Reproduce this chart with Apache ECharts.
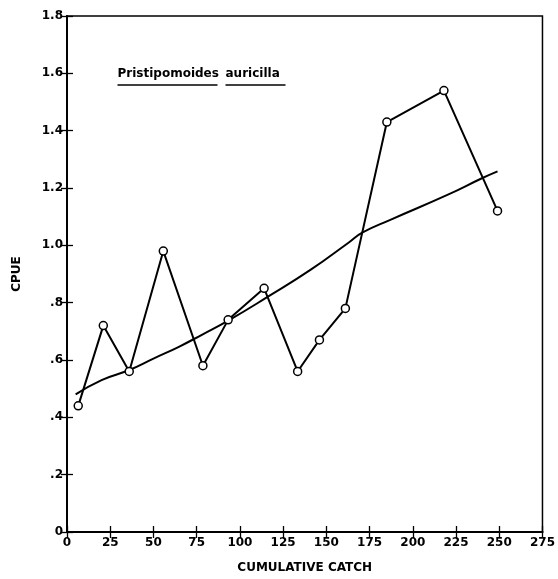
<!DOCTYPE html>
<html>
<head>
<meta charset="utf-8">
<script src="https://cdn.jsdelivr.net/npm/echarts@6/dist/echarts.min.js"></script>
<style>html,body{margin:0;padding:0;background:#fff}#c{width:558px;height:579px}</style>
</head>
<body>
<div id="c"></div>
<script>
// Observed CPUE vs cumulative catch
var catchX = [6.5, 21, 36, 55.7, 78.6, 93.2, 114, 133.4, 146, 161, 185, 218, 249];
var cpueY = [0.44, 0.72, 0.56, 0.98, 0.58, 0.74, 0.85, 0.56, 0.67, 0.78, 1.43, 1.54, 1.12];
// Fitted (smooth) curve
var fitX = [5, 20, 36, 50, 65, 78, 94, 116, 141, 163, 171, 187, 220, 240, 249];
var fitY = [0.48, 0.53, 0.565, 0.605, 0.647, 0.688, 0.74, 0.82, 0.915, 1.01, 1.045, 1.089, 1.176, 1.234, 1.258];
var xTicks = [0, 25, 50, 75, 100, 125, 150, 175, 200, 225, 250, 275];
var yTickLabels = ['0', '.2', '.4', '.6', '.8', '1.0', '1.2', '1.4', '1.6', '1.8'];
var speciesName = ['Pristipomoides', 'auricilla'];

var pair = function (xs, ys) { return xs.map(function (x, i) { return [x, ys[i]]; }); };
var FONT = 'DejaVu Sans';
var chart = echarts.init(document.getElementById('c'));
var lbl = { color: '#000', fontFamily: FONT, fontWeight: 'bold', fontSize: 12 };
var tickIn = { show: true, inside: true, length: 6, lineStyle: { color: '#000', width: 1.3 } };
chart.setOption({
  animation: false,
  backgroundColor: '#fff',
  grid: { left: 67, right: 12, top: 16, bottom: 47, show: true, borderColor: '#000', borderWidth: 1.5 },
  xAxis: [{
    type: 'value', min: 0, max: 275, interval: 25,
    axisLine: { show: true, lineStyle: { color: '#000', width: 2 } },
    axisTick: tickIn, splitLine: { show: false },
    axisLabel: Object.assign({ margin: 5, formatter: function (v) { return xTicks.indexOf(v) >= 0 ? String(v) : ''; } }, lbl),
    name: 'CUMULATIVE CATCH', nameLocation: 'middle', nameGap: 30,
    nameTextStyle: { color: '#000', fontFamily: FONT, fontWeight: 'bold', fontSize: 12 }
  }, {
    type: 'value', position: 'top', min: 0, max: 275, interval: 25,
    axisLine: { show: true, lineStyle: { color: '#000', width: 1.5 } },
    axisTick: tickIn, axisLabel: { show: false }, splitLine: { show: false }
  }],
  yAxis: [{
    type: 'value', min: 0, max: 1.8, interval: 0.2,
    axisLine: { show: true, lineStyle: { color: '#000', width: 2 } },
    axisTick: tickIn, splitLine: { show: false },
    axisLabel: Object.assign({ margin: 4, formatter: function (v) { return yTickLabels[Math.round(v / 0.2)]; } }, lbl),
    name: 'CPUE', nameLocation: 'middle', nameGap: 44, nameRotate: 90,
    nameTextStyle: { color: '#000', fontFamily: FONT, fontWeight: 'bold', fontSize: 12 }
  }, {
    type: 'value', position: 'right', min: 0, max: 1.8, interval: 0.2,
    axisLine: { show: true, lineStyle: { color: '#000', width: 1.5 } },
    axisTick: tickIn, axisLabel: { show: false }, splitLine: { show: false }
  }],
  graphic: [{
    type: 'group', left: 115, top: 68,
    children: [
      { type: 'text', x: 0, y: 0, style: { text: speciesName[0], font: 'bold 12px "DejaVu Sans"', fill: '#000' } },
      { type: 'line', shape: { x1: 0, y1: 17, x2: 100, y2: 17 }, style: { stroke: '#000', lineWidth: 1.3 } },
      { type: 'text', x: 108, y: 0, style: { text: speciesName[1], font: 'bold 12px "DejaVu Sans"', fill: '#000' } },
      { type: 'line', shape: { x1: 108, y1: 17, x2: 168, y2: 17 }, style: { stroke: '#000', lineWidth: 1.3 } }
    ]
  }],
  series: [{
    type: 'line', data: pair(fitX, fitY), smooth: true, showSymbol: false,
    lineStyle: { color: '#000', width: 2 }, z: 2
  }, {
    type: 'line', data: pair(catchX, cpueY), symbol: 'circle', symbolSize: 8,
    lineStyle: { color: '#000', width: 2 },
    itemStyle: { color: '#fff', borderColor: '#000', borderWidth: 1.5 }, z: 3
  }]
});
</script>
</body>
</html>
